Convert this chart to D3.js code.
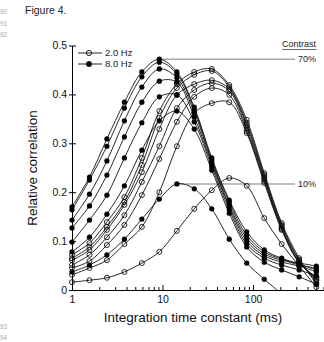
<!DOCTYPE html>
<html>
<head>
<meta charset="utf-8">
<script src="https://cdn.jsdelivr.net/npm/d3@7"></script>
<style>
  body { margin: 0; background: #fff; }
  svg { display: block; font-family: "Liberation Sans", Arial, sans-serif; }
</style>
</head>
<body>
<svg width="324" height="342"></svg>
<script>
// integration time constants (ms) at which correlation was sampled
let times = [1, 1.56, 2.43, 3.79, 5.91, 9.22, 14.4, 22.4, 35, 54.6, 85.1, 133, 207, 323, 500];

// 8.0 Hz (filled), contrast high -> low
let hz8_c1 = [0.170, 0.231, 0.309, 0.384, 0.446, 0.472, 0.446, 0.374, 0.270, 0.184, 0.119, 0.082, 0.065, 0.053, 0.041];
let hz8_c2 = [0.164, 0.225, 0.294, 0.372, 0.436, 0.466, 0.442, 0.370, 0.266, 0.180, 0.112, 0.078, 0.063, 0.051, 0.045];
let hz8_c3 = [0.143, 0.196, 0.264, 0.346, 0.415, 0.452, 0.434, 0.364, 0.262, 0.174, 0.106, 0.074, 0.061, 0.055, 0.049];
let hz8_c4 = [0.127, 0.172, 0.235, 0.313, 0.384, 0.427, 0.425, 0.354, 0.258, 0.170, 0.100, 0.070, 0.057, 0.049, 0.037];
let hz8_c5 = [0.098, 0.143, 0.194, 0.270, 0.342, 0.395, 0.399, 0.344, 0.252, 0.164, 0.094, 0.065, 0.051, 0.041, 0.029];
let hz8_c6 = [0.078, 0.108, 0.155, 0.213, 0.286, 0.346, 0.366, 0.329, 0.245, 0.157, 0.088, 0.057, 0.041, 0.027, 0.012];
let hz8_c7 = [0.037, 0.051, 0.072, 0.104, 0.145, 0.186, 0.217, 0.207, 0.166, 0.104, 0.055, 0.022, -0.008];

// 2.0 Hz (open)
let hz2_c1 = [0.072, 0.096, 0.139, 0.190, 0.270, 0.366, 0.421, 0.446, 0.452, 0.419, 0.348, 0.239, 0.137, 0.065, 0.012];
let hz2_c2 = [0.065, 0.088, 0.129, 0.180, 0.256, 0.352, 0.413, 0.440, 0.448, 0.415, 0.342, 0.235, 0.133, 0.061, 0.016];
let hz2_c3 = [0.061, 0.082, 0.123, 0.174, 0.241, 0.329, 0.399, 0.421, 0.429, 0.411, 0.337, 0.231, 0.131, 0.061, 0.020];
let hz2_c4 = [0.051, 0.072, 0.108, 0.153, 0.221, 0.294, 0.372, 0.409, 0.423, 0.407, 0.331, 0.227, 0.127, 0.057, 0.022];
let hz2_c5 = [0.045, 0.059, 0.092, 0.133, 0.194, 0.268, 0.344, 0.395, 0.413, 0.399, 0.325, 0.223, 0.125, 0.057, 0.025];
let hz2_c6 = [0.031, 0.045, 0.061, 0.094, 0.129, 0.200, 0.294, 0.362, 0.382, 0.384, 0.321, 0.219, 0.123, 0.055, 0.027];
let hz2_c7 = [0.016, 0.020, 0.025, 0.037, 0.055, 0.078, 0.121, 0.166, 0.204, 0.229, 0.213, 0.147, 0.094, 0.049, 0.006];

let filledSeries = [hz8_c1, hz8_c2, hz8_c3, hz8_c4, hz8_c5, hz8_c6, hz8_c7];
let openSeries = [hz2_c1, hz2_c2, hz2_c3, hz2_c4, hz2_c5, hz2_c6, hz2_c7];

let legendLabels = ["2.0 Hz", "8.0 Hz"];
let contrastLabels = ["70%", "10%"];   // first and last filled curve
let yTicks = [0, 0.1, 0.2, 0.3, 0.4, 0.5];
let xMajor = [1, 10, 100];
let xMinor = [2, 3, 4, 5, 6, 7, 8, 9, 20, 30, 40, 50, 60, 70, 80, 90, 200, 300, 400, 500, 600];

let svg = d3.select('svg');

let x = d3.scaleLog().domain([1, 600]).range([72, 323.5]);
let y = d3.scaleLinear().domain([0, 0.5]).range([290, 45.5]);

// page furniture
svg.append('text').attr('x', 25).attr('y', 14).attr('font-size', 10.5).attr('fill', '#222').text('Figure 4.');
[["90", 12], ["91", 23.5], ["92", 35], ["93", 326.5], ["94", 337.5]].forEach(d => {
  svg.append('text').attr('x', 0).attr('y', d[1]).attr('dy', '0.35em')
    .attr('font-size', 6.5).attr('fill', '#aaa').text(d[0]);
});

// axes
let yAxis = svg.append('g').attr('transform', 'translate(72,0)')
  .call(d3.axisLeft(y).tickValues(yTicks).tickSize(3).tickSizeOuter(0).tickPadding(2)
    .tickFormat(d => d === 0 ? '0' : d3.format('.1f')(d)));
yAxis.selectAll('.tick').append('line').attr('x2', 4).attr('stroke', '#000');

svg.append('g').attr('transform', 'translate(0,290)')
  .call(d3.axisBottom(x).tickValues(xMinor).tickSize(-3).tickSizeOuter(0).tickFormat(''));
svg.append('g').attr('transform', 'translate(0,290)')
  .call(d3.axisBottom(x).tickValues(xMajor).tickSize(-5).tickSizeOuter(0).tickPadding(6)
    .tickFormat(d3.format('d')));

svg.selectAll('.tick text').attr('font-size', 10.5).attr('fill', '#111')
  .attr('font-family', '"Liberation Sans", Arial, sans-serif');
svg.selectAll('.domain, .tick line').attr('stroke', '#000').attr('stroke-width', 1);

svg.append('text').attr('x', 193).attr('y', 322).attr('text-anchor', 'middle')
  .attr('font-size', 13.5).attr('fill', '#111').text('Integration time constant (ms)');
svg.append('text').attr('transform', 'translate(37,168) rotate(-90)').attr('text-anchor', 'middle')
  .attr('font-size', 13.5).attr('fill', '#111').text('Relative correlation');

// contrast leader lines, from the peaks of the filled curves
let ends = [hz8_c1, hz8_c7];
ends.forEach((s, k) => {
  let m = d3.maxIndex(s);
  svg.append('line').attr('x1', x(times[m])).attr('x2', 295)
    .attr('y1', y(s[m])).attr('y2', y(s[m]))
    .attr('stroke', '#a8a8a8').attr('stroke-width', 1.5);
  svg.append('text').attr('x', 316).attr('y', y(s[m])).attr('dy', '0.35em')
    .attr('text-anchor', 'end').attr('font-size', 9).attr('fill', '#222').text(contrastLabels[k]);
});
let ct = svg.append('text').attr('x', 316).attr('y', 47).attr('text-anchor', 'end')
  .attr('font-size', 9).attr('fill', '#222').text('Contrast');
let bb = ct.node().getBBox();
svg.append('line').attr('x1', bb.x).attr('x2', bb.x + bb.width).attr('y1', 49.5).attr('y2', 49.5)
  .attr('stroke', '#444').attr('stroke-width', 0.8);

// curves
svg.append('clipPath').attr('id', 'plot').append('rect')
  .attr('x', 72).attr('y', 0).attr('width', 252).attr('height', 290);

let line = d3.line()
  .x((d, i) => x(times[i]))
  .y(d => y(d))
  .curve(d3.curveCatmullRom.alpha(0.5));

let plot = svg.append('g').attr('clip-path', 'url(#plot)');

plot.selectAll('path.open').data(openSeries).enter().append('path')
  .attr('d', line).attr('fill', 'none').attr('stroke', '#111').attr('stroke-width', 0.9);
plot.selectAll('path.filled').data(filledSeries).enter().append('path')
  .attr('d', line).attr('fill', 'none').attr('stroke', '#111').attr('stroke-width', 0.9);

openSeries.forEach(s => {
  svg.append('g').selectAll('circle').data(s.filter(v => v >= 0)).enter().append('circle')
    .attr('cx', (d, i) => x(times[i])).attr('cy', d => y(d)).attr('r', 2.5)
    .attr('fill', 'none').attr('stroke', '#111').attr('stroke-width', 0.9);
});
filledSeries.forEach(s => {
  svg.append('g').selectAll('circle').data(s.filter(v => v >= 0)).enter().append('circle')
    .attr('cx', (d, i) => x(times[i])).attr('cy', d => y(d)).attr('r', 2.6)
    .attr('fill', '#000');
});

// legend
[53, 64].forEach((ly, k) => {
  svg.append('line').attr('x1', 78).attr('x2', 102).attr('y1', ly).attr('y2', ly)
    .attr('stroke', '#111').attr('stroke-width', 0.9);
  svg.append('circle').attr('cx', 89).attr('cy', ly).attr('r', 2.6)
    .attr('fill', k === 0 ? 'none' : '#000').attr('stroke', '#111').attr('stroke-width', 0.9);
  svg.append('text').attr('x', 105).attr('y', ly).attr('dy', '0.35em')
    .attr('font-size', 9.5).attr('fill', '#222').text(legendLabels[k]);
});
</script>
</body>
</html>
